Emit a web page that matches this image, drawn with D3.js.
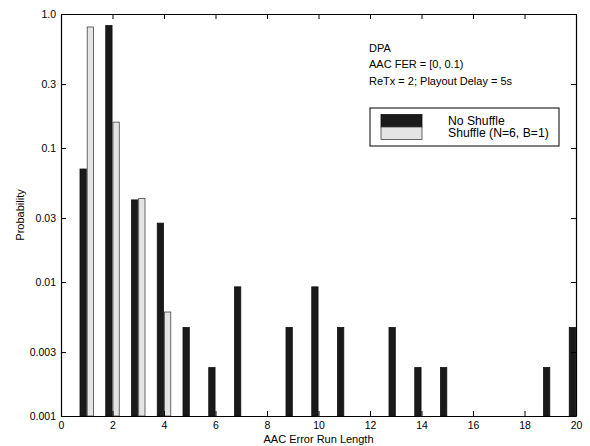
<!DOCTYPE html>
<html>
<head>
<meta charset="utf-8">
<script src="https://cdn.jsdelivr.net/npm/d3@7"></script>
<style>
  html, body { margin: 0; padding: 0; background: #fff; }
  svg { display: block; font-family: "Liberation Sans", Arial, sans-serif; }
</style>
</head>
<body>
<svg id="chart" width="590" height="446"></svg>
<script>
// ---- data ----
const runLengths = [1,2,3,4,5,6,7,8,9,10,11,12,13,14,15,16,17,18,19,20];
const noShuffle  = [0.0697,0.82,0.041,0.0275,0.00458,0.0023,0.0092,0,0.00458,0.0092,0.00458,0,0.00458,0.0023,0.0023,0,0,0,0.0023,0.00458];
const shuffle    = [0.80,0.156,0.042,0.00597,0,0,0,0,0,0,0,0,0,0,0,0,0,0,0,0];
const seriesNames = ["No Shuffle", "Shuffle (N=6, B=1)"];
const xTicks = [0,2,4,6,8,10,12,14,16,18,20];
const yTicks = [0.001,0.003,0.01,0.03,0.1,0.3,1.0];
const yTickLabels = ["0.001","0.003","0.01","0.03","0.1","0.3","1.0"];
const annotations = ["DPA", "AAC FER = [0, 0.1)", "ReTx = 2; Playout Delay = 5s"];

// ---- layout ----
const L = 61, R = 576, T = 14, B = 416;
const svg = d3.select("#chart");
const x = d3.scaleLinear().domain([0,20]).range([L,R]);
const y = d3.scaleLog().domain([0.001,1]).range([B,T]);

const colors = ["#1a1a1a", "#e4e4e4"];
const strokes = ["#111", "#444"];
const offsets = [-0.14, 0.14];
const barW = 0.245;

svg.append("clipPath").attr("id","plotclip")
  .append("rect").attr("x",L).attr("y",T).attr("width",R-L).attr("height",B-T);

const barsG = svg.append("g").attr("clip-path","url(#plotclip)");
[noShuffle, shuffle].forEach((vals, si) => {
  const data = runLengths.map((r,i)=>({r, v: vals[i]})).filter(d=>d.v>0);
  barsG.selectAll(".b"+si).data(data).enter().append("rect")
    .attr("x", d => x(d.r + offsets[si] - barW/2))
    .attr("width", d => x(d.r + offsets[si] + barW/2) - x(d.r + offsets[si] - barW/2))
    .attr("y", d => y(d.v))
    .attr("height", d => B - y(d.v))
    .attr("fill", colors[si])
    .attr("stroke", strokes[si])
    .attr("stroke-width", 0.8);
});

// ---- axes ----
function styleAxis(g) {
  g.select(".domain").attr("stroke","#000").attr("stroke-width",1.2);
  g.selectAll(".tick line").attr("stroke","#000").attr("stroke-width",1);
  g.selectAll(".tick text").attr("fill","#000").style("font-size","10.5px").style("font-family","'Liberation Sans', Arial, sans-serif");
}
const xb = svg.append("g").attr("transform",`translate(0,${B})`)
  .call(d3.axisBottom(x).tickValues(xTicks).tickSizeInner(-5).tickSizeOuter(0).tickPadding(6).tickFormat(d3.format("d")));
styleAxis(xb);
const xt = svg.append("g").attr("transform",`translate(0,${T})`)
  .call(d3.axisTop(x).tickValues(xTicks).tickSizeInner(-5).tickSizeOuter(0).tickFormat(""));
styleAxis(xt);
const yl = svg.append("g").attr("transform",`translate(${L},0)`)
  .call(d3.axisLeft(y).tickValues(yTicks).tickSizeInner(-5).tickSizeOuter(0).tickPadding(5)
    .tickFormat((d,i)=>yTickLabels[i]));
styleAxis(yl);
const yr = svg.append("g").attr("transform",`translate(${R},0)`)
  .call(d3.axisRight(y).tickValues(yTicks).tickSizeInner(-5).tickSizeOuter(0).tickFormat(""));
styleAxis(yr);

// axis labels
svg.append("text").attr("x",(L+R)/2).attr("y",443).attr("text-anchor","middle")
  .style("font-size","11px").text("AAC Error Run Length");
svg.append("text").attr("transform",`translate(24,${(T+B)/2}) rotate(-90)`).attr("text-anchor","middle")
  .style("font-size","11px").text("Probability");

// annotations
annotations.forEach((t,i)=>{
  svg.append("text").attr("x",369).attr("y",52 + i*16.3).style("font-size","11px").text(t);
});

// legend
const lg = svg.append("g");
lg.append("rect").attr("x",370).attr("y",108).attr("width",189).attr("height",38)
  .attr("fill","#fff").attr("stroke","#000").attr("stroke-width",1);
lg.append("rect").attr("x",381).attr("y",114.5).attr("width",41).attr("height",12.5)
  .attr("fill",colors[0]).attr("stroke",strokes[0]).attr("stroke-width",0.8);
lg.append("rect").attr("x",381).attr("y",127).attr("width",41).attr("height",12.5)
  .attr("fill",colors[1]).attr("stroke",strokes[1]).attr("stroke-width",0.8);
seriesNames.forEach((n,i)=>{
  lg.append("text").attr("x",448).attr("y",124.5 + i*12.6).style("font-size","12.2px").text(n);
});
</script>
</body>
</html>
